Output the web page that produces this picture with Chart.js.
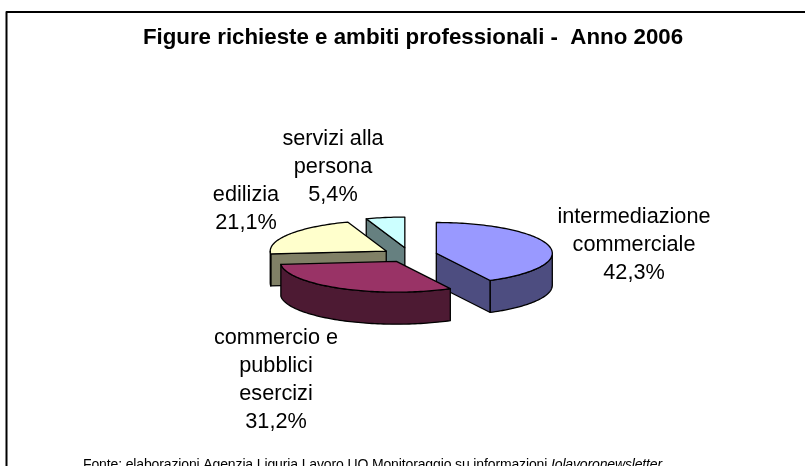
<!DOCTYPE html>
<html><head><meta charset="utf-8">
<style>html,body{margin:0;padding:0;background:#fff}canvas{display:block}</style>
<script src="https://cdn.jsdelivr.net/npm/chart.js@4/dist/chart.umd.js"></script>
</head><body>
<div style="width:805px;height:466px"><canvas id="c" width="805" height="466"></canvas></div>
<script>
const categories = ['intermediazione commerciale','commercio e pubblici esercizi','edilizia','servizi alla persona'];
const values = [42.3,31.2,21.1,5.4];
const topColors = ['#9999ff','#993366','#ffffcc','#ccffff'];
const wallColors = ['#4d4d80','#4d1a33','#808066','#668080'];
const titleText = 'Figure richieste e ambiti professionali -  Anno 2006';
const footerText = 'Fonte: elaborazioni Agenzia Liguria Lavoro UO Monitoraggio su informazioni ';
const footerItalic = 'Iolavoronewsletter';
const labelLines = [
  ['intermediazione','commerciale','42,3%'],
  ['commercio e','pubblici','esercizi','31,2%'],
  ['edilizia','21,1%'],
  ['servizi alla','persona','5,4%']
];
const labelAnchors = [[634,217],[276,338],[246,195],[333,139]];
const drawOrder = [3,2,0,1];
const SQUASH = 0.265, EXPLODE = 27.6, DEPTH = 32, RADIUS = 116;

const pie3d = {
  id:'pie3d',
  beforeDatasetsDraw(chart){
    const ctx = chart.ctx, meta = chart.getDatasetMeta(0);
    const P = (el,ang,r,dz)=>{
      const mid=(el.startAngle+el.endAngle)/2;
      const x=el.x+Math.cos(mid)*EXPLODE+Math.cos(ang)*r;
      const y=el.y+(Math.sin(mid)*EXPLODE+Math.sin(ang)*r)*SQUASH+dz;
      return [x,y];
    };
    const arcPts=(el,a0,a1,dz)=>{const n=Math.max(2,Math.ceil((a1-a0)*40));const o=[];
      for(let i=0;i<=n;i++){o.push(P(el,a0+(a1-a0)*i/n,el.outerRadius,dz));}return o;};
    const poly=(pts,fill)=>{ctx.beginPath();pts.forEach((p,i)=>i?ctx.lineTo(p[0],p[1]):ctx.moveTo(p[0],p[1]));ctx.closePath();
      if(fill){ctx.fillStyle=fill;ctx.fill();}ctx.lineWidth=1.3;ctx.strokeStyle='#000';ctx.lineJoin='round';ctx.stroke();};
    drawOrder.forEach(i=>{
      const el=meta.data[i], a0=el.startAngle, a1=el.endAngle, wall=wallColors[i];
      const apex=P(el,0,0,0), apexB=P(el,0,0,DEPTH);
      if(Math.sin(a0+Math.PI/2)<-1e-6){const r=P(el,a0,el.outerRadius,0),rb=P(el,a0,el.outerRadius,DEPTH);poly([apex,r,rb,apexB],wall);}
      if(Math.sin(a1+Math.PI/2)>1e-6){const r=P(el,a1,el.outerRadius,0),rb=P(el,a1,el.outerRadius,DEPTH);poly([apex,r,rb,apexB],wall);}
      const f0=Math.max(a0,0), f1=Math.min(a1,Math.PI);
      if(f1>f0){const top=arcPts(el,f0,f1,0),bot=arcPts(el,f0,f1,DEPTH).reverse();poly(top.concat(bot),wall);}
      ctx.save();
      const mid=(a0+a1)/2;
      ctx.translate(Math.cos(mid)*EXPLODE,Math.sin(mid)*EXPLODE*SQUASH);
      ctx.translate(0,el.y);ctx.scale(1,SQUASH);ctx.translate(0,-el.y);
      el.draw(ctx);
      ctx.restore();
      poly([apex].concat(arcPts(el,a0,a1,0)),null);
    });
    return false;
  },
  afterDraw(chart){
    const ctx=chart.ctx;
    ctx.save();
    ctx.strokeStyle='#000';ctx.lineWidth=2;
    ctx.beginPath();ctx.moveTo(6.5,470);ctx.lineTo(6.5,12);ctx.lineTo(806,12);ctx.stroke();
    ctx.fillStyle='#000';ctx.textAlign='center';ctx.textBaseline='middle';
    ctx.font='bold 22.3px "Liberation Sans"';
    ctx.fillText(titleText,413,38);
    ctx.font='21.7px "Liberation Sans"';
    labelLines.forEach((ls,i)=>ls.forEach((t,j)=>ctx.fillText(t,labelAnchors[i][0],labelAnchors[i][1]+j*28)));
    ctx.textAlign='left';ctx.textBaseline='alphabetic';
    ctx.font='14px "Liberation Sans"';
    const fit=(t,x,w)=>{ctx.letterSpacing='0px';const m=ctx.measureText(t).width;ctx.letterSpacing=((w-m)/t.length)+'px';ctx.fillText(t,x,469);ctx.letterSpacing='0px';};
    fit(footerText,83,468);
    ctx.font='italic 14px "Liberation Sans"';
    fit(footerItalic,551,111);
    ctx.restore();
  }
};
Chart.defaults.animation=false;
new Chart(document.getElementById('c'),{
  type:'pie',
  data:{labels:categories,datasets:[{data:values,backgroundColor:topColors,borderWidth:0,radius:RADIUS}]},
  options:{
    responsive:false,animation:false,
    layout:{padding:{left:14,right:0,top:44,bottom:0}},
    plugins:{legend:{display:false},tooltip:{enabled:false},title:{display:false}}
  },
  plugins:[pie3d]
});
</script>
</body></html>
